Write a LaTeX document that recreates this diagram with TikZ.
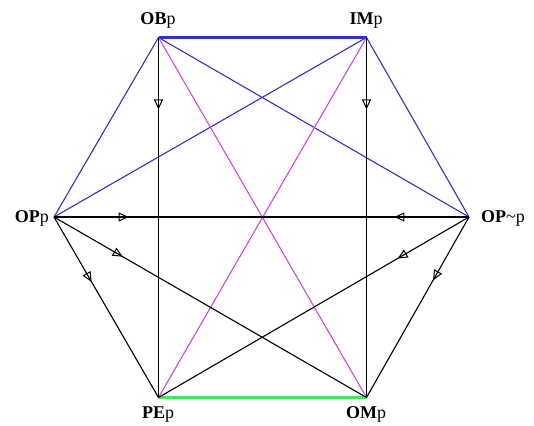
\documentclass[tikz,border=0pt]{standalone}
\usepackage{fontspec}
\setmainfont{Liberation Serif}
\usetikzlibrary{arrows.meta,decorations.markings}
\definecolor{eblue}{RGB}{50,50,190}
\definecolor{emag}{RGB}{210,70,215}
\definecolor{egreen}{RGB}{80,225,80}
\tikzset{
  edge/.style={line width=1.1pt},
  hedge/.style={line width=2.2pt},
  arr/.style={postaction={decorate,decoration={markings,
     mark=at position #1 with {\arrow{Triangle[open,length=10pt,width=9pt,line width=1pt]}}}}},
  lbl/.style={font=\fontsize{18}{20}\selectfont, inner sep=0pt}
}
\begin{document}
\begin{tikzpicture}[x=1pt,y=1pt]
\useasboundingbox (0,0) rectangle (534,425);
\coordinate (OB) at (158.5,387.5);
\coordinate (IM) at (366.5,387.5);
\coordinate (OP) at (54,208);
\coordinate (OPn) at (469,208);
\coordinate (PE) at (158.5,27.5);
\coordinate (OM) at (366.5,27.5);
% blue
\draw[hedge,eblue] (OB) -- (IM);
\draw[edge,eblue] (OB) -- (OP);
\draw[edge,eblue] (OB) -- (OPn);
\draw[edge,eblue] (IM) -- (OP);
\draw[edge,eblue] (IM) -- (OPn);
% magenta
\draw[edge,emag] (OB) -- (OM);
\draw[edge,emag] (IM) -- (PE);
% green
\draw[hedge,egreen] (PE) -- (OM);
% black with arrows
\draw[edge,arr=0.2] (OB) -- (PE);
\draw[edge,arr=0.2] (IM) -- (OM);
\draw[edge,arr=0.18] (OP) -- (OPn);
\draw[edge,arr=0.18] (OPn) -- (OP);
\draw[edge,arr=0.36] (OP) -- (PE);
\draw[edge,arr=0.22] (OP) -- (OM);
\draw[edge,arr=0.35] (OPn) -- (OM);
\draw[edge,arr=0.23] (OPn) -- (PE);
% labels
\node[lbl,anchor=base] (lOB) at (158,400) {\textbf{OB}p};
\node[lbl,anchor=base] (lIM) at (366,400) {\textbf{IM}p};
\node[lbl,anchor=base east] (lOP) at (49,202) {\textbf{OP}p};
\node[lbl,anchor=base west] (lOPn) at (481,202) {\textbf{OP}\raisebox{0.5pt}{\textasciitilde}p};
\node[lbl,anchor=base] (lPE) at (158,7) {\textbf{PE}p};
\node[lbl,anchor=base] (lOM) at (366,7) {\textbf{OM}p};
\end{tikzpicture}
\end{document}
